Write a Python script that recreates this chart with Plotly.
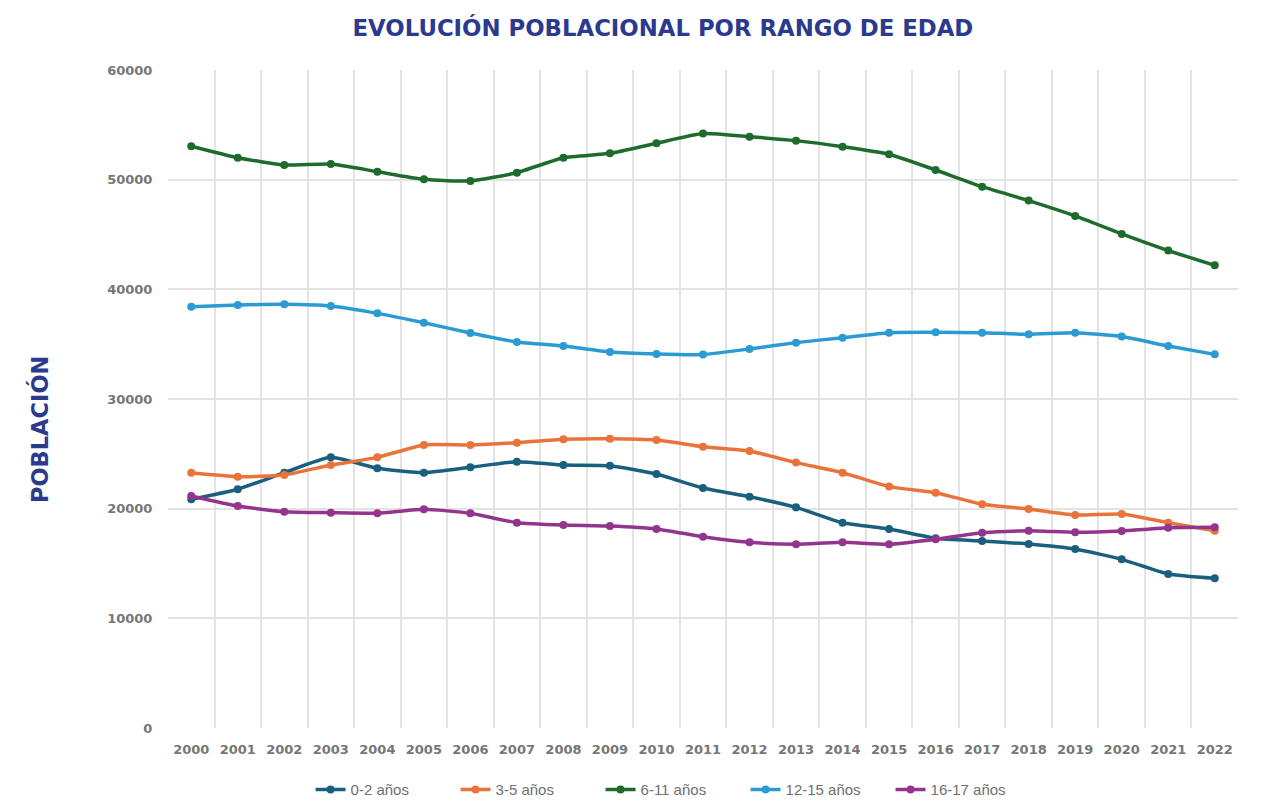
import plotly.graph_objects as go

years = [str(y) for y in range(2000, 2023)]

s_0_2 = [20850, 21770, 23280, 24680, 23680, 23280, 23770, 24280, 23980, 23920, 23160, 21880,
         21090, 20120, 18720, 18150, 17300, 17050, 16780, 16320, 15380, 14040, 13650]
s_3_5 = [23280, 22920, 23070, 23980, 24680, 25810, 25810, 26020, 26330, 26380, 26260, 25650,
         25260, 24200, 23280, 22010, 21460, 20400, 19970, 19420, 19510, 18720, 17990]
s_6_11 = [53050, 52000, 51340, 51430, 50730, 50030, 49880, 50640, 52000, 52400, 53320, 54200,
          53920, 53560, 53010, 52320, 50880, 49360, 48090, 46690, 45050, 43530, 42190]
s_12_15 = [38420, 38570, 38640, 38480, 37810, 36960, 36020, 35200, 34830, 34290, 34100, 34050,
           34560, 35140, 35590, 36050, 36080, 36050, 35900, 36050, 35690, 34830, 34070]
s_16_17 = [21160, 20240, 19720, 19630, 19580, 19940, 19580, 18720, 18510, 18420, 18150, 17440,
           16930, 16750, 16930, 16750, 17210, 17810, 17990, 17840, 17960, 18260, 18300]

series_names = ["0-2 años", "3-5 años", "6-11 años", "12-15 años", "16-17 años"]
series_vals = [s_0_2, s_3_5, s_6_11, s_12_15, s_16_17]
colors = ["#1B5F7E", "#E8743B", "#1E6B2E", "#2B9BD3", "#93358C"]

TITLE_COLOR = "#2B3A8C"
TICK_COLOR = "#767676"

fig = go.Figure()
for name, vals, col in zip(series_names, series_vals, colors):
    fig.add_trace(go.Scatter(
        x=years, y=vals, name=name, mode="lines+markers",
        line=dict(color=col, width=3.5, shape="spline", smoothing=0.5),
        marker=dict(color=col, size=8),
    ))

fig.update_layout(
    width=1257, height=794,
    paper_bgcolor="white", plot_bgcolor="white",
    margin=dict(l=160, r=27, t=62, b=74, autoexpand=False),
    title=dict(text="<b>EVOLUCIÓN POBLACIONAL POR RANGO DE EDAD</b>",
               x=0.521, xanchor="center", y=0.975, yanchor="middle",
               font=dict(family="DejaVu Sans", size=22.8, color=TITLE_COLOR)),
    font=dict(family="DejaVu Sans", size=13, color=TICK_COLOR),
    legend=dict(orientation="h", x=0.472, xanchor="center", y=-0.094, yanchor="middle",
                font=dict(family="Liberation Sans", size=15, color="#707070"),
                entrywidth=100, entrywidthmode="pixels", traceorder="normal"),
    showlegend=True,
    annotations=[dict(text="<b>POBLACIÓN</b>", textangle=-90, xref="paper", yref="paper",
                      x=-0.1196, y=0.4529, xanchor="center", yanchor="middle",
                      showarrow=False,
                      font=dict(family="DejaVu Sans", size=22.5, color=TITLE_COLOR))],
)
fig.update_xaxes(type="category", tickson="boundaries", showgrid=True,
                 gridcolor="#E3E3E3", gridwidth=1.5, ticks="", ticklabelstandoff=12,
                 showline=False, automargin=False,
                 zeroline=False, range=[-0.5, 22.5],
                 tickfont=dict(family="DejaVu Sans", size=13, color=TICK_COLOR, weight="bold"))
fig.update_yaxes(range=[0, 60000], dtick=10000, tickformat="d", showgrid=True,
                 gridcolor="#E3E3E3", gridwidth=1.5, zeroline=False, automargin=False,
                 ticks="outside", ticklen=12, tickcolor="rgba(0,0,0,0)",
                 tickfont=dict(family="DejaVu Sans", size=13, color=TICK_COLOR, weight="bold"))

fig.write_html("out.html")
